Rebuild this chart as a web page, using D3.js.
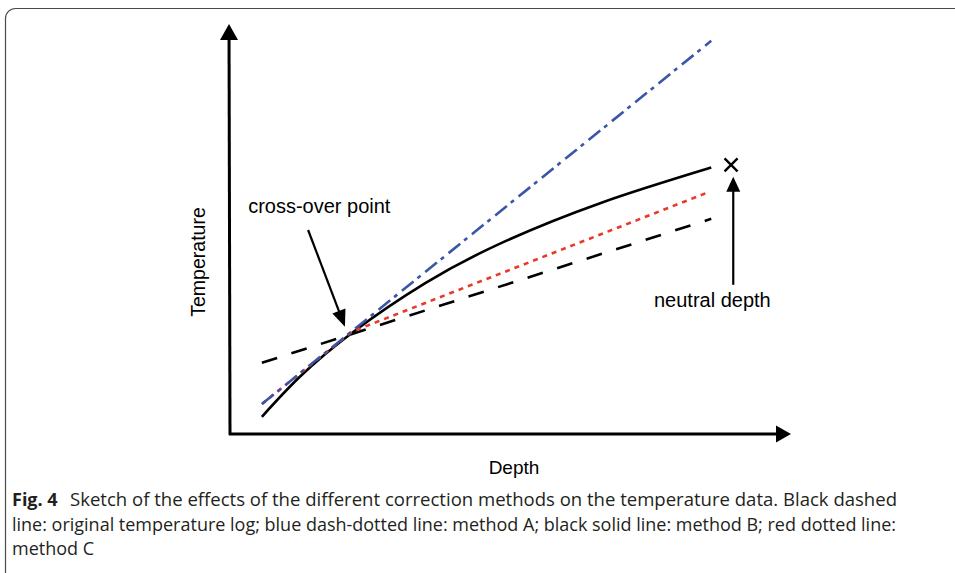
<html><head>
<title>Fig. 4 temperature correction sketch</title>
<style>
body { margin: 0; background: #fff; }
svg { display: block; }
</style>
<script src="https://cdnjs.cloudflare.com/ajax/libs/d3/7.8.5/d3.min.js"></script>
</head>
<body>
<div id="chart"></div>
<script>
// sketch data (arbitrary units, depth 0-100, temperature 0-100)
const origDepth = [5.8, 87.5];
const origTemp = [17.8, 53.8];

const methodADepth = [5.8, 87.5];
const methodATemp = [7.5, 98.3];

const methodBDepth = [5.8, 12.7, 22.4, 35.5, 49.1, 67.3, 87.5];
const methodBTemp = [4.3, 14.3, 25.5, 37.7, 47.6, 57.7, 66.6];

const methodCDepth = [5.8, 22.2, 86.7];
const methodCTemp = [7.5, 25.6, 60.3];

const axisEnd = {depth: 102, temp: 102.5};
const crossOver = {tip: [20.9, 26.8], tail: [14.2, 51], label: [3.3, 55.3]};
const neutral = {mark: [91.1, 67.3], tip: [91.5, 64.3], tail: [91.5, 37.3], label: [87.7, 31.8]};

const captionLines = [
  "Sketch of the effects of the different correction methods on the temperature data. Black dashed",
  "line: original temperature log; blue dash-dotted line: method A; black solid line: method B; red dotted line:",
  "method C"
];

const W = 955, H = 573;

const svg = d3.select("#chart").append("svg")
  .attr("width", W)
  .attr("height", H);

svg.append("rect").attr("width", W).attr("height", H).attr("fill", "#fff");

// panel frame (runs off the right and bottom edges)
svg.append("rect")
  .attr("x", 5.5).attr("y", 8.5)
  .attr("width", 1000).attr("height", 620)
  .attr("rx", 10)
  .attr("fill", "none")
  .attr("stroke", "#4a4a4a")
  .attr("stroke-width", 1.2);

const x = d3.scaleLinear().domain([0, 100]).range([230, 780]);
const y = d3.scaleLinear().domain([0, 100]).range([434, 34]);

// arrow helper
function arrow(x1, y1, x2, y2, headLen, headHalf, width) {
  const len = Math.hypot(x2 - x1, y2 - y1);
  svg.append("line")
    .attr("x1", x1).attr("y1", y1)
    .attr("x2", x2 - (x2 - x1) / len * (headLen - 2))
    .attr("y2", y2 - (y2 - y1) / len * (headLen - 2))
    .attr("stroke", "#000")
    .attr("stroke-width", width);
  const a = Math.atan2(y2 - y1, x2 - x1);
  const bx = x2 - Math.cos(a) * headLen, by = y2 - Math.sin(a) * headLen;
  const px = -Math.sin(a) * headHalf, py = Math.cos(a) * headHalf;
  svg.append("path")
    .attr("d", `M${x2},${y2}L${bx + px},${by + py}L${bx - px},${by - py}Z`)
    .attr("fill", "#000");
}

// axes
arrow(x(0), y(0) + 1, x(0) - 1, y(axisEnd.temp), 16, 9, 3);
arrow(x(0) - 1, y(0), x(axisEnd.depth), y(0), 15, 8.5, 3);

const line = d3.line().x(d => x(d[0])).y(d => y(d[1]));
const zip = (a, b) => a.map((v, i) => [v, b[i]]);

// original log: black dashed
svg.append("path")
  .attr("d", line(zip(origDepth, origTemp)))
  .attr("fill", "none").attr("stroke", "#000")
  .attr("stroke-width", 2.6)
  .attr("stroke-dasharray", "16,15");

// method B: black solid
svg.append("path")
  .attr("d", line.curve(d3.curveNatural)(zip(methodBDepth, methodBTemp)))
  .attr("fill", "none").attr("stroke", "#000")
  .attr("stroke-width", 2.6);
line.curve(d3.curveLinear);

// method C: red dotted
svg.append("path")
  .attr("d", line(zip(methodCDepth, methodCTemp)))
  .attr("fill", "none").attr("stroke", "#e8392c")
  .attr("stroke-width", 2.6)
  .attr("stroke-dasharray", "5,5");

// method A: blue dash-dot
svg.append("path")
  .attr("d", line(zip(methodADepth, methodATemp)))
  .attr("fill", "none").attr("stroke", "#3a56a8")
  .attr("stroke-width", 2.6)
  .attr("stroke-dasharray", "15,5,4,6");

// annotations
arrow(x(crossOver.tail[0]), y(crossOver.tail[1]), x(crossOver.tip[0]), y(crossOver.tip[1]), 17, 7, 2.2);
svg.append("text")
  .attr("x", x(crossOver.label[0])).attr("y", y(crossOver.label[1]))
  .attr("font-family", "Liberation Sans, Arial, sans-serif")
  .attr("font-size", 20)
  .text("cross-over point");

arrow(x(neutral.tail[0]), y(neutral.tail[1]), x(neutral.tip[0]), y(neutral.tip[1]), 15, 7, 2.2);
const mx = x(neutral.mark[0]), my = y(neutral.mark[1]);
svg.append("path")
  .attr("d", `M${mx - 6.5},${my - 6.5}L${mx + 6.5},${my + 6.5}M${mx + 6.5},${my - 6.5}L${mx - 6.5},${my + 6.5}`)
  .attr("stroke", "#000").attr("stroke-width", 2.4);
svg.append("text")
  .attr("x", x(neutral.label[0])).attr("y", y(neutral.label[1]))
  .attr("text-anchor", "middle")
  .attr("font-family", "Liberation Sans, Arial, sans-serif")
  .attr("font-size", 20)
  .text("neutral depth");

// axis titles
svg.append("text")
  .attr("x", 514).attr("y", 474)
  .attr("text-anchor", "middle")
  .attr("font-family", "Liberation Sans, Arial, sans-serif")
  .attr("font-size", 19)
  .text("Depth");
svg.append("text")
  .attr("transform", "translate(205,262) rotate(-90)")
  .attr("text-anchor", "middle")
  .attr("font-family", "Liberation Sans, Arial, sans-serif")
  .attr("font-size", 19.5)
  .text("Temperature");

// caption
const cap = svg.append("g")
  .attr("font-family", "Open Sans, Noto Sans, sans-serif")
  .attr("font-size", 18)
  .attr("fill", "#231f20");
cap.append("text")
  .attr("x", 12).attr("y", 506)
  .attr("font-weight", "bold")
  .text("Fig. 4");
const capStarts = [70, 12, 12];
const capEnds = [897, 896, null];
let squeeze = 1;
captionLines.forEach((t, i) => {
  const el = cap.append("text")
    .attr("x", capStarts[i]).attr("y", 506 + i * 24.5)
    .text(t);
  const natural = el.node().getComputedTextLength();
  if (capEnds[i] !== null) squeeze = (capEnds[i] - capStarts[i]) / natural;
  el.attr("textLength", capEnds[i] !== null ? capEnds[i] - capStarts[i] : natural * squeeze)
    .attr("lengthAdjust", "spacingAndGlyphs");
});
</script>
</body>
</html>
